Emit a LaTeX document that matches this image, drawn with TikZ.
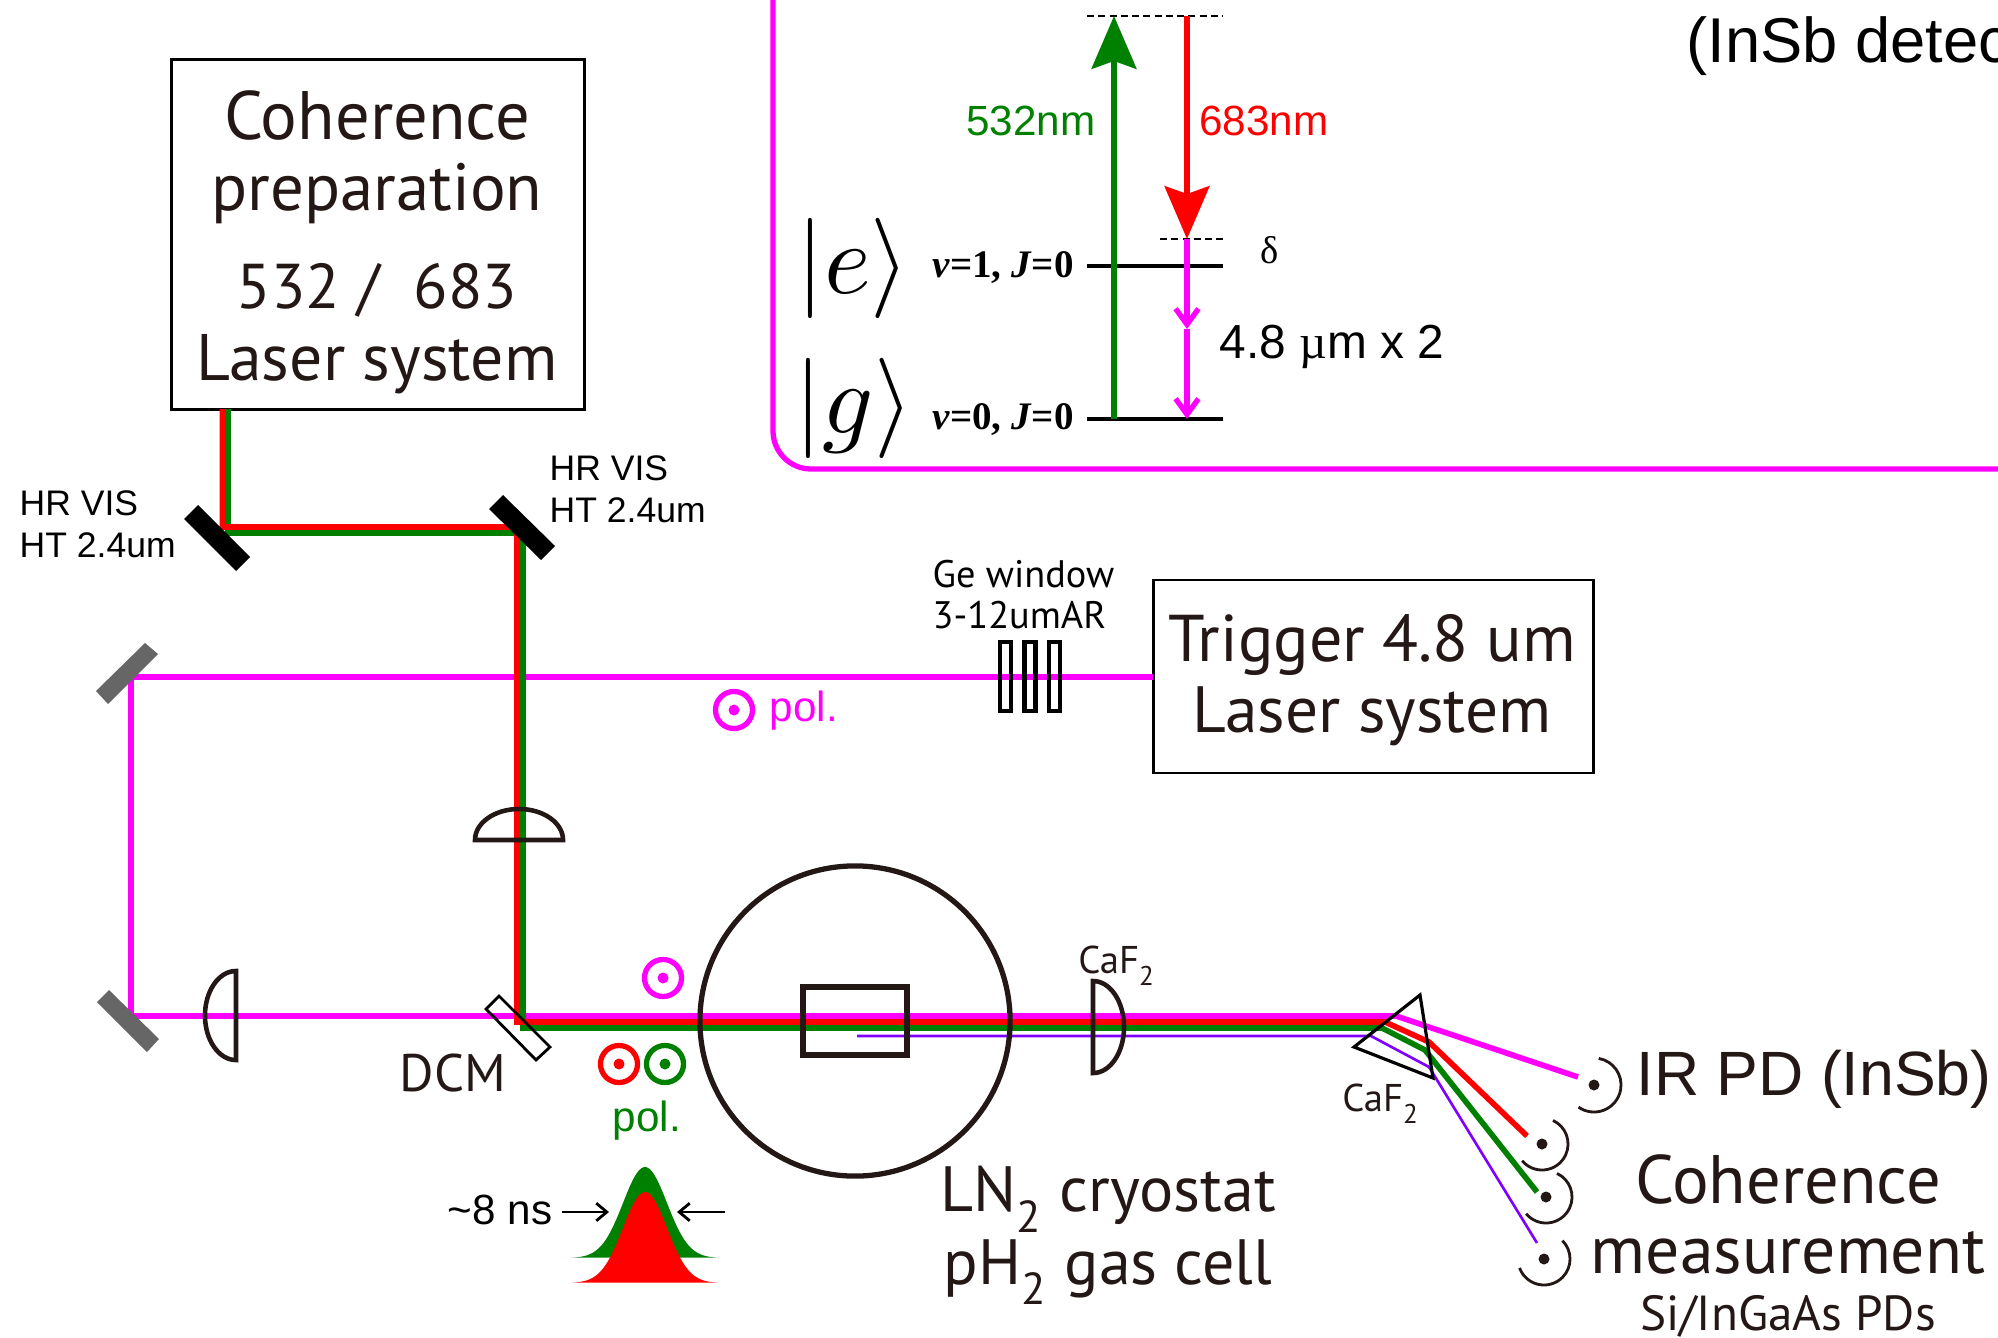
\documentclass[tikz,border=0pt]{standalone}
\usepackage{fontspec}
\setmainfont{PT Sans}
\newfontfamily\hvfont{Liberation Sans}
\newfontfamily\tmfont{Liberation Serif}
\usetikzlibrary{arrows.meta}
\definecolor{inkblack}{HTML}{231815}
\definecolor{beammag}{HTML}{FF00FF}
\definecolor{beamgreen}{HTML}{008000}
\definecolor{beamred}{HTML}{FF0000}
\definecolor{beamviolet}{HTML}{7F00FF}
\newcommand{\lowtwo}{\raisebox{-.3ex}{\textsubscript{2}}}
\begin{document}
\begin{tikzpicture}[x=0.01cm,y=0.01cm,
    bigtxt/.style={text=inkblack,font=\fontsize{19}{22}\selectfont,inner sep=0pt},
    midtxt/.style={text=inkblack,font=\fontsize{11}{13}\selectfont,inner sep=0pt},
    hvtxt/.style={font=\hvfont\fontsize{12}{14}\selectfont,inner sep=0pt},
    hrtxt/.style={font=\hvfont\fontsize{10.1}{12}\selectfont,inner sep=0pt},
    leveltxt/.style={font=\tmfont\bfseries\fontsize{11.1}{13}\selectfont,inner sep=0pt},
    magbeam/.style={beammag,line width=1.6pt},
    redbeam/.style={beamred,line width=1.6pt},
    greenbeam/.style={beamgreen,line width=1.6pt},
    violetbeam/.style={beamviolet,line width=0.75pt},
    mirror/.style={fill=black,draw=none},
    graymirror/.style={fill=black!60,draw=none},
    optic/.style={inkblack,line width=1.3pt},
    pdarc/.style={inkblack,line width=0.8pt},
    dashlevel/.style={line width=0.8pt,dash pattern=on 2pt off 1.2pt},
    bighead/.style={line width=1.7pt,-{Stealth[length=15pt,width=12.7pt,inset=2.2pt]}},
    smallhead/.style={beammag,line width=1.5pt,-{Straight Barb[length=4.5pt,width=6.5pt]}},
    pulsetick/.style={line width=0.8pt,-{Straight Barb[length=3pt,width=5pt]}}]
\useasboundingbox (0,0) rectangle (1998,-1337);

\draw[beammag,line width=1.5pt,rounded corners=.38cm] (773,0) -- (773,-469) -- (1998,-469);

% energy levels
\draw[dashlevel] (1087,-16) -- (1223,-16);
\draw[dashlevel] (1160,-239) -- (1223,-239);
\draw[line width=0.9pt] (1087,-266) -- (1223,-266);
\draw[line width=0.9pt] (1087,-419) -- (1223,-419);
\draw[beamgreen,bighead] (1114,-419) -- (1114,-16);
\draw[beamred,bighead] (1187,-16) -- (1187,-239);
\draw[smallhead] (1187,-239) -- (1187,-329);
\draw[smallhead] (1187,-329) -- (1187,-419);
\node[hvtxt,text=beamgreen] (greentxt) at (1031,-121) {532nm};
\node[hvtxt,text=beamred] (redtxt) at (1264,-121) {683nm};
\node[font=\tmfont\fontsize{11}{13}\selectfont,inner sep=0pt] (deltatxt) at (1270,-250) {δ};
\node[font=\hvfont\fontsize{13.6}{16}\selectfont,inner sep=0pt,anchor=west] (ratetxt) at (1219,-347) {4.8 {\tmfont µ}m x 2};
\node[scale=2.85,inner sep=0pt] (estate) at (853,-268) {$|e\rangle$};
\node[scale=2.85,inner sep=0pt] (gstate) at (854,-408) {$|g\rangle$};
\node[leveltxt] (eleveltxt) at (1003,-268) {\textit{v}=1, \textit{J}=0};
\node[leveltxt] (gleveltxt) at (1003,-420) {\textit{v}=0, \textit{J}=0};
\node[font=\hvfont\fontsize{18}{21}\selectfont,inner sep=0pt,anchor=west] (topdet) at (1686,-46) {(InSb detec};

% laser boxes
\node[draw=black,line width=0.8pt,minimum width=4.12cm,minimum height=3.49cm,inner sep=0pt] (cohbox) at (378,-234.5) {};
\node[bigtxt,font=\fontsize{19.5}{22}\selectfont] (coh1) at (377,-116) {Coherence};
\node[bigtxt] (coh2) at (377,-194) {preparation};
\node[bigtxt,font=\fontsize{18}{22}\selectfont] (coh3) at (377,-290) {532 /\ \ 683};
\node[bigtxt,font=\fontsize{18.7}{22}\selectfont] (coh4) at (377,-364) {Laser system};
\node[draw=black,line width=0.8pt,minimum width=4.39cm,minimum height=1.93cm,inner sep=0pt] (trigbox) at (1373.5,-676.5) {};
\node[bigtxt,font=\fontsize{18.8}{22}\selectfont] (trig1) at (1372,-645) {Trigger 4.8 um};
\node[bigtxt,font=\fontsize{18.6}{22}\selectfont] (trig2) at (1372,-716) {Laser system};

% beam turning points
\coordinate (ma) at (1153,-677);
\coordinate (mb) at (131,-677);
\coordinate (mc) at (131,-1016);
\coordinate (md) at (1396,-1016);
\coordinate (me) at (1578,-1077);
\coordinate (ra) at (222.5,-409);
\coordinate (rb) at (222.5,-527);
\coordinate (rc) at (517,-527);
\coordinate (rd) at (517,-1022);
\coordinate (re) at (1385,-1022);
\coordinate (rf) at (1429,-1042);
\coordinate (rg) at (1527,-1136);
\coordinate (ga) at (228,-409);
\coordinate (gb) at (228,-533);
\coordinate (gc) at (523,-533);
\coordinate (gd) at (523,-1028);
\coordinate (ge) at (1382,-1028);
\coordinate (gf) at (1425,-1050);
\coordinate (gg) at (1537,-1192);
\coordinate (va) at (857,-1036);
\coordinate (vb) at (1371,-1036);
\coordinate (vc) at (1429,-1067);
\coordinate (vd) at (1537,-1243);

\draw[magbeam] (ma) -- (mb) -- (mc) -- (md) -- (me);
\draw[greenbeam] (ga) -- (gb) -- (gc) -- (gd) -- (ge) -- (gf) -- (gg);
\draw[redbeam] (ra) -- (rb) -- (rc) -- (rd) -- (re) -- (rf) -- (rg);
\draw[violetbeam] (va) -- (vb) -- (vc) -- (vd);

% mirrors
\fill[mirror] (198,-505) -- (184,-519) -- (236,-571) -- (250,-557) -- cycle;
\fill[mirror] (503,-495) -- (489,-509) -- (541,-560) -- (555,-546) -- cycle;
\fill[graymirror] (145,-643) -- (158,-654) -- (108,-704) -- (96,-691) -- cycle;
\fill[graymirror] (109,-990) -- (97,-1002) -- (147,-1052) -- (159,-1039) -- cycle;
\draw[line width=0.8pt] (499,-996) -- (486,-1009) -- (536,-1060) -- (550,-1047) -- cycle;

% lenses
\draw[optic] (475,-840) arc[start angle=180,end angle=0,x radius=.44cm,y radius=.31cm] -- cycle;
\draw[optic] (236,-971) arc[start angle=90,end angle=270,x radius=.31cm,y radius=.445cm] -- cycle;
\draw[optic] (1093,-981) arc[start angle=90,end angle=-90,x radius=.31cm,y radius=.46cm] -- cycle;

% Ge windows
\foreach \wx in {1005.5,1030,1054.5}
  \draw[line width=1.3pt] (\wx-5.5,-642) rectangle (\wx+5.5,-711);
\node[midtxt,text=black,align=left,anchor=west,font=\fontsize{10.9}{11.7}\selectfont] (getxt) at (932,-595) {Ge window\\3-12umAR};

% cryostat and cell
\draw[inkblack,line width=1.5pt] (855,-1021) circle[radius=1.55cm];
\draw[inkblack,line width=1.6pt] (803,-987) rectangle (907,-1055);

% prism
\draw[line width=0.9pt] (1420,-995) -- (1354,-1047) -- (1433,-1078) -- cycle;

% polarisation marks
\foreach \px/\py/\pc in {734/710/beammag,663/978/beammag,619/1064/beamred,665/1064/beamgreen}{
  \draw[\pc,line width=1.5pt] (\px,-\py) circle[radius=.185cm];
  \fill[\pc] (\px,-\py) circle[radius=.055cm];
}
\node[hvtxt,text=beammag] (polm) at (804,-711) {pol.};
\node[hvtxt,text=beamgreen] (polg) at (647,-1121) {pol.};

% pulse
\fill[beamgreen] plot[domain=-74:74,samples=60,smooth] ({645+\x},{-1258+91*exp(-(\x/31)^2)}) -- cycle;
\fill[beamred] plot[domain=-74:74,samples=60,smooth] ({645+\x},{-1283+91*exp(-(\x/31)^2)}) -- cycle;
\coordinate (tl) at (562,-1212);
\coordinate (tlb) at (609,-1212);
\coordinate (tr) at (725,-1212);
\coordinate (trb) at (677,-1212);
\draw[pulsetick] (tl) -- (tlb);
\draw[pulsetick] (tr) -- (trb);
\node[hvtxt] (widthtxt) at (500,-1210) {\textasciitilde 8 ns};

% detectors
\foreach \dx/\dy/\sa/\ea/\dr in {1594/1085/80/-125/.27,1542/1144/65/-140/.26,1546/1197/65/-140/.26,1544/1259/45/-160/.26}{
  \fill[inkblack] (\dx,-\dy) circle[radius=.055cm];
  \draw[pdarc] (\dx,-\dy) ++(\sa:\dr cm) arc[start angle=\sa,end angle=\ea,radius=\dr cm];
}

% labels
\node[hrtxt,align=left,anchor=west] (hrl) at (19,-524) {HR VIS\\HT 2.4um};
\node[hrtxt,align=left,anchor=west] (hrr) at (549,-489) {HR VIS\\HT 2.4um};
\node[midtxt] (dcmtxt) at (453,-1073) {\fontsize{15}{17}\selectfont DCM};
\node[midtxt] (cafa) at (1117,-966) {CaF\lowtwo};
\node[midtxt] (cafb) at (1381,-1104) {CaF\lowtwo};
\node[bigtxt,font=\fontsize{18.2}{21}\selectfont] (ln) at (1108,-1199) {LN\lowtwo\ cryostat};
\node[bigtxt,font=\fontsize{18.2}{21}\selectfont] (ph) at (1108,-1272) {pH\lowtwo\ gas cell};
\node[font=\hvfont\fontsize{17.8}{21}\selectfont,text=inkblack,inner sep=0pt,anchor=west] (irtxt) at (1636,-1079) {IR PD (InSb)};
\node[bigtxt,font=\fontsize{19.5}{22}\selectfont] (ma1) at (1788,-1179) {Coherence};
\node[bigtxt,font=\fontsize{19.25}{22}\selectfont] (ma2) at (1788,-1253) {measurement};
\node[midtxt] (ma3) at (1788,-1316) {\fontsize{14}{16}\selectfont Si/InGaAs PDs};
\end{tikzpicture}
\end{document}
